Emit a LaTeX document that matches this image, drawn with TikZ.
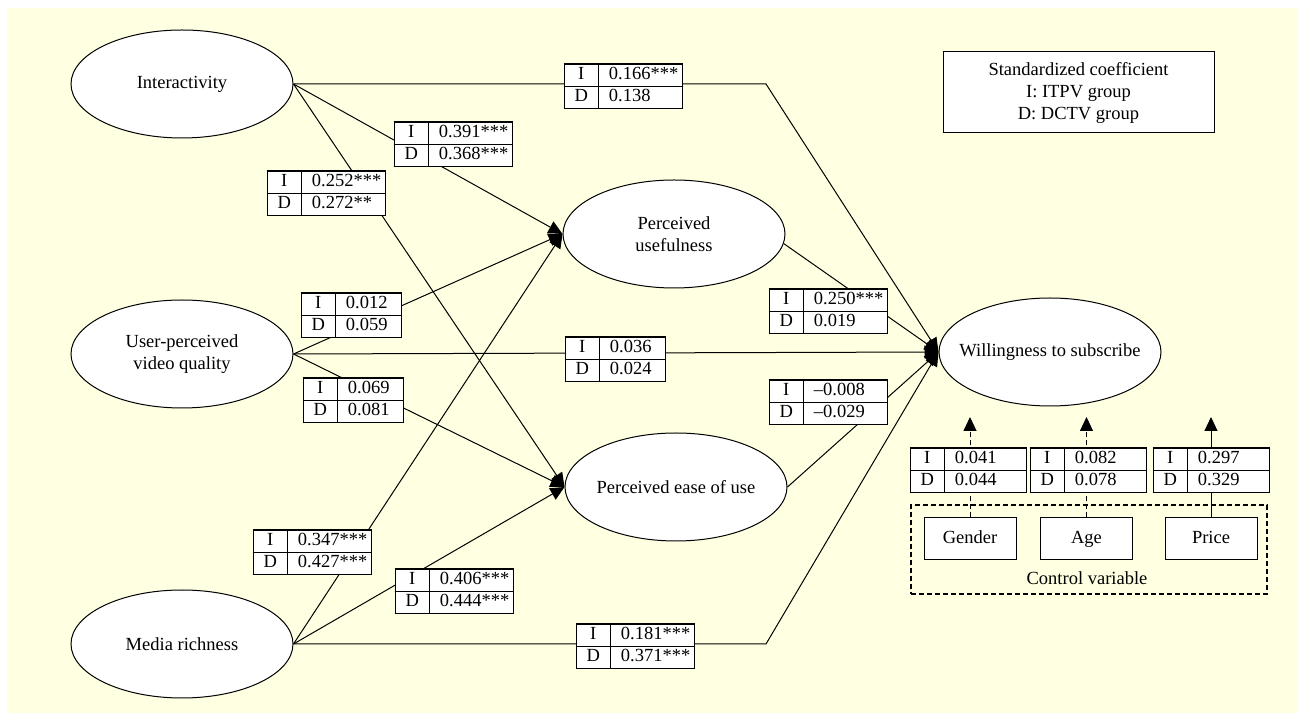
\documentclass[tikz,border=0pt]{standalone}
\usepackage{fontspec}
\setmainfont{Liberation Serif}
\usepackage{array}
\usetikzlibrary{arrows.meta,shapes.geometric}

\definecolor{cream}{RGB}{255,255,225}
\setlength{\arrayrulewidth}{0.6pt}
\setlength{\tabcolsep}{2.5pt}
\newcommand{\coeftab}[3]{{\renewcommand{\arraystretch}{0.95}%
\begin{tabular}{|wc{11.5pt}|@{\hspace{5pt}}wl{#1}|}\hline
I & #2\\\hline
D & #3\\\hline
\end{tabular}}}

\tikzset{
  latent/.style={ellipse,draw,fill=white,minimum width=111pt,minimum height=54pt,inner sep=0pt},
  coefbox/.style={fill=white,inner sep=0pt,anchor=north west},
  control/.style={draw,fill=white,minimum width=46pt,minimum height=21pt,text height=6.5pt,text depth=2pt},
  dash line/.style={dash pattern=on 2.5pt off 1.5pt}
}

\begin{document}
\begin{tikzpicture}[x=0.5pt,y=-0.5pt,line width=0.5pt,font=\fontsize{9.25}{11}\selectfont,>={Triangle[length=7pt,width=6.5pt]}]
		\useasboundingbox[fill=white] (0,0) rectangle (1297,715);
		\fill[cream] (7,8) rectangle (1297,713);
		%
		\node[latent,label={center:Interactivity}] (Int) at (182,84) {};
		\node[latent,label={[align=center]center:User-perceived\\video quality}] (UPVQ) at (182,354) {};
		\node[latent,label={center:Media richness}] (MR) at (182,644) {};
		\node[latent,label={[align=center]center:Perceived\\usefulness}] (PU) at (674,234) {};
		\node[latent,label={center:Perceived ease of use}] (PEOU) at (676,487) {};
		\node[latent,label={center:Willingness to subscribe}] (WTS) at (1050,352) {};
		%
		\node[draw,fill=white,align=center,minimum width=135.5pt,minimum height=40.5pt] (legend) at (1078.5,92.5) {Standardized coefficient\\I: ITPV group\\D: DCTV group};
		%
		\node[draw,line width=0.9pt,dash line,minimum width=178pt,minimum height=44.5pt] (frame) at (1089,549.5) {};
		\node (ctrl) at (1087,578) {Control variable};
		\node[control] (Gender) at (970,539) {Gender};
		\node[control] (Age) at (1086.5,539) {Age};
		\node[control] (Price) at (1211,539) {Price};
		\coordinate (bend) at (766,0);
		\coordinate (top) at (0,417);
		%
		\path[->]
		(Int.east) edge (PU.west)
		(Int.east) edge (PEOU.west)
		(UPVQ.east) edge (PU.west)
		(UPVQ.east) edge (PEOU.west)
		(UPVQ.east) edge (WTS.west)
		(MR.east) edge (PU.west)
		(MR.east) edge (PEOU.west)
		(PU.-5) edge (WTS.west)
		(PEOU.east) edge (WTS.west);
		\draw[->] (Int.east) -- (Int.east -| bend) -- (WTS.west);
		\draw[->] (MR.east) -- (MR.east -| bend) -- (WTS.west);
		\draw[->,dash line] (Gender) -- (Gender |- top);
		\draw[->,dash line] (Age) -- (Age |- top);
		\draw[->] (Price) -- (Price |- top);
		%
		\node[coefbox] (c166) at (563,63) {\coeftab{34pt}{0.166***}{0.138}};
		\node[coefbox] (c391) at (393,121) {\coeftab{34pt}{0.391***}{0.368***}};
		\node[coefbox] (c252) at (266,170) {\coeftab{34pt}{0.252***}{0.272**}};
		\node[coefbox] (c012) at (300,292) {\coeftab{25pt}{0.012}{0.059}};
		\node[coefbox] (c036) at (564,336) {\coeftab{25pt}{0.036}{0.024}};
		\node[coefbox] (c069) at (302,377) {\coeftab{25pt}{0.069}{0.081}};
		\node[coefbox] (c347) at (252,529) {\coeftab{34pt}{0.347***}{0.427***}};
		\node[coefbox] (c406) at (394,568) {\coeftab{34pt}{0.406***}{0.444***}};
		\node[coefbox] (c181) at (575,623) {\coeftab{34pt}{0.181***}{0.371***}};
		\node[coefbox] (c250) at (768,288) {\coeftab{34pt}{0.250***}{0.019}};
		\node[coefbox] (c008) at (768,379) {\coeftab{34pt}{–0.008}{–0.029}};
		\node[coefbox] (cgen) at (909,447) {\coeftab{33pt}{0.041}{0.044}};
		\node[coefbox] (cage) at (1029,447) {\coeftab{33pt}{0.082}{0.078}};
		\node[coefbox] (cpri) at (1152,447) {\coeftab{33pt}{0.297}{0.329}};
\end{tikzpicture}
\end{document}
